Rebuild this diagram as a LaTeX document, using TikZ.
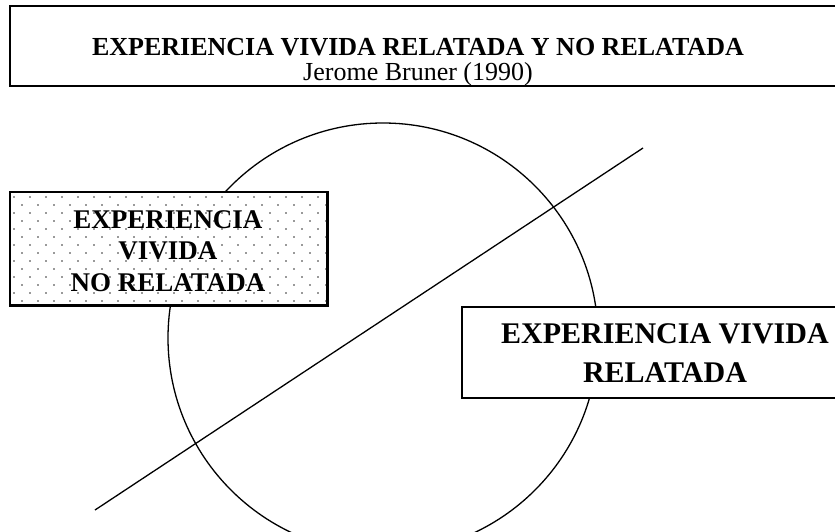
\documentclass[tikz,border=0pt]{standalone}
\usepackage{fontspec}
\setmainfont{Liberation Serif}
\begin{document}
\begin{tikzpicture}[x=1pt,y=-1pt,
  boxline/.style={draw=black,line width=1.5pt},
  thinline/.style={draw=black,line width=1.3pt},
  dotmark/.style={fill=black!80}]
\clip (0,0) rectangle (835,531);
\fill[white] (0,0) rectangle (835,531);
% title box
\node[boxline,minimum width=835pt,minimum height=80pt,inner sep=0pt] (head) at (427.5,46) {};
\node[font=\fontsize{26}{30}\bfseries\selectfont] (title) at (418,47) {EXPERIENCIA VIVIDA RELATADA Y NO RELATADA};
\node[font=\fontsize{26}{30}\selectfont] (author) at (418,74) {Jerome Bruner (1990)};
% circle and diagonal
\draw[thinline] (383,338) circle[radius=215pt];
\coordinate (lo) at (95,510);
\coordinate (hi) at (643,148);
\draw[thinline] (lo) -- (hi);
% left box
\node[boxline,fill=white,minimum width=317pt,minimum height=113pt,inner sep=0pt] (nr) at (168.5,248.5) {};
\begin{scope}
  \clip (11,193) rectangle (326,304);
  \foreach \j in {0,...,14}{
    \foreach \i in {0,...,21}{
      \pgfmathsetmacro{\xx}{14+\i*16+mod(\j,2)*8}
      \pgfmathsetmacro{\yy}{197+\j*8}
      \fill[dotmark] (\xx,\yy) circle[radius=0.95pt];
    }
  }
\end{scope}
\draw[boxline] (nr.north west) rectangle (nr.south east);
\node[align=center,font=\fontsize{27}{31.5}\bfseries\selectfont] (nrt) at (168,251) {EXPERIENCIA\\VIVIDA\\NO RELATADA};
% right box
\node[boxline,fill=white,minimum width=406pt,minimum height=91pt,inner sep=0pt] (r) at (665,352.5) {};
\node[align=center,font=\fontsize{30}{39}\bfseries\selectfont] (rt) at (665,353) {EXPERIENCIA VIVIDA\\RELATADA};
\end{tikzpicture}
\end{document}
